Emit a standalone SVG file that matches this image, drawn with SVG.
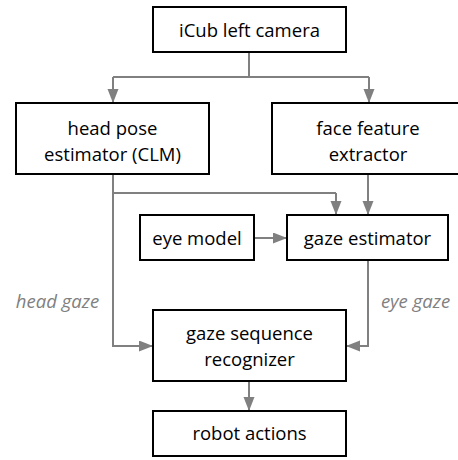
<svg xmlns="http://www.w3.org/2000/svg" width="458" height="460" viewBox="0 0 458 460">
  <defs>
    <marker id="arrow" markerUnits="userSpaceOnUse" markerWidth="15" markerHeight="12" refX="14" refY="5.5" orient="auto">
      <path d="M0,0 L14,5.5 L0,11 Z" fill="#808080"/>
    </marker>
    <style>
      .box { fill: #ffffff; stroke: #000000; stroke-width: 2; }
      .label { font-family: "Open Sans", "Liberation Sans", sans-serif; font-size: 18.5px; fill: #000000; text-anchor: middle; }
      .note { font-family: "Open Sans", "Liberation Sans", sans-serif; font-size: 18.5px; font-style: italic; fill: #808080; text-anchor: middle; }
      .wire { fill: none; stroke: #808080; stroke-width: 2; }
      .arrowed { marker-end: url(#arrow); }
    </style>
  </defs>

  <rect width="458" height="460" fill="#ffffff"/>

  <!-- connectors -->
  <g id="connectors">
    <path class="wire" d="M249,52 V77"/>
    <path class="wire" d="M113,77 H369"/>
    <path class="wire arrowed" d="M113,77 V103"/>
    <path class="wire arrowed" d="M369,77 V103"/>
    <path class="wire arrowed" d="M336,193 V215"/>
    <path class="wire" d="M113,193 H336"/>
    <path class="wire arrowed" d="M368,174 V215"/>
    <path class="wire arrowed" d="M254,238 H287"/>
    <path class="wire arrowed" d="M113,174 V346 H153"/>
    <path class="wire arrowed" d="M368,260 V346 H346"/>
    <path class="wire arrowed" d="M249,381 V411"/>
  </g>

  <g id="icub-camera">
    <rect class="box" x="153" y="7" width="193" height="45"/>
    <text class="label" x="249.5" y="37">iCub left camera</text>
  </g>

  <g id="head-pose-estimator">
    <rect class="box" x="16" y="103" width="193" height="71"/>
    <text class="label" x="112.5" y="135">head pose</text>
    <text class="label" x="112.5" y="161">estimator (CLM)</text>
  </g>

  <g id="face-feature-extractor">
    <rect class="box" x="272" y="103" width="194" height="71"/>
    <text class="label" x="368" y="135">face feature</text>
    <text class="label" x="368" y="161">extractor</text>
  </g>

  <g id="eye-model">
    <rect class="box" x="140" y="215" width="114" height="45"/>
    <text class="label" x="197" y="245">eye model</text>
  </g>

  <g id="gaze-estimator">
    <rect class="box" x="287" y="215" width="161" height="45"/>
    <text class="label" x="367.5" y="245">gaze estimator</text>
  </g>

  <g id="gaze-sequence-recognizer">
    <rect class="box" x="153" y="310" width="193" height="71"/>
    <text class="label" x="249.5" y="340">gaze sequence</text>
    <text class="label" x="249.5" y="366">recognizer</text>
  </g>

  <g id="robot-actions">
    <rect class="box" x="153" y="411" width="193" height="45"/>
    <text class="label" x="249.5" y="440">robot actions</text>
  </g>

  <g id="edge-labels">
    <text class="note" x="57.5" y="308">head gaze</text>
    <text class="note" x="415.5" y="308">eye gaze</text>
  </g>
</svg>
